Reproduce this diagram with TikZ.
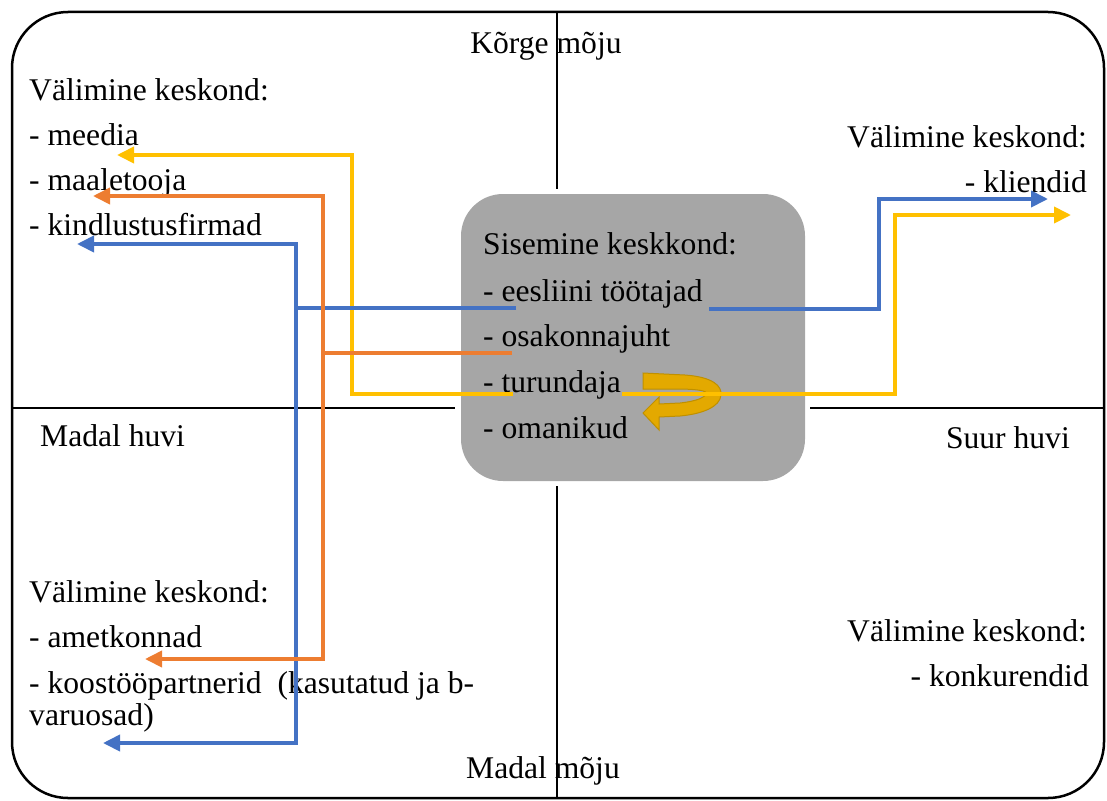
\documentclass[tikz,border=0pt]{standalone}
\usepackage{fontspec}
\setmainfont{Liberation Serif}
\usetikzlibrary{arrows.meta}
\definecolor{cblue}{HTML}{4472C4}
\definecolor{corange}{HTML}{ED7D31}
\definecolor{cyellow}{HTML}{FFC000}
\definecolor{boxgray}{HTML}{A6A6A6}
\definecolor{goldfill}{HTML}{E3A900}
\definecolor{goldline}{HTML}{BF9000}
\begin{document}
\begin{tikzpicture}[x=1pt,y=-1pt,
  txt/.style={inner sep=0pt, font=\fontsize{31.6}{36}\selectfont},
  lft/.style={txt, anchor=base west},
  rgt/.style={txt, anchor=base east},
  ctr/.style={txt, anchor=base},
  axis/.style={line width=2pt, black},
  flow/.style={line width=3.8pt, -{Triangle[length=17pt,width=16pt]}}]
\useasboundingbox (0,0) rectangle (1107,800);
% outer frame
\draw[line width=2.5pt, rounded corners=56pt] (12,12) rectangle (1104,798);
% axes
\draw[axis] (557,12) -- (557,189);
\draw[axis] (557,486) -- (557,798);
\draw[axis] (12,408) -- (455,408);
\draw[axis] (810,408) -- (1104,408);
% inner box
\node[fill=boxgray, rounded corners=42pt, minimum width=344pt, minimum height=287pt, inner sep=0pt] (inner) at (633,337.5) {};
% texts
\node[ctr] (korge) at (546,54) {Kõrge mõju};
\node[ctr] (madalmoju) at (543,778) {Madal mõju};
\node[lft] (madalhuvi) at (40,446) {Madal huvi};
\node[rgt] (suurhuvi) at (1070,448) {Suur huvi};

\node[lft] (tlh) at (29,100) {Välimine keskond:};
\node[lft] (tl1) at (29,145) {- meedia};
\node[lft] (tl2) at (29,190) {- maaletooja};
\node[lft] (tl3) at (29,235) {- kindlustusfirmad};

\node[rgt] (trh) at (1087,147) {Välimine keskond:};
\node[rgt] (tr1) at (1087,192) {- kliendid};

\node[lft] (blh) at (29,602) {Välimine keskond:};
\node[lft] (bl1) at (29,647) {- ametkonnad};
\node[lft] (bl2) at (29,693) {- koostööpartnerid\ \ (kasutatud ja b-};
\node[lft] (bl3) at (29,725) {varuosad)};

\node[rgt] (brh) at (1087,641) {Välimine keskond:};
\node[rgt] (br1) at (1089,686) {- konkurendid};

\node[lft] (ch) at (483,254) {Sisemine keskkond:};
\node[lft] (c1) at (483,301) {- eesliini töötajad};
\node[lft] (c2) at (483,346) {- osakonnajuht};
\node[lft] (c3) at (483,392) {- turundaja};
\node[lft] (c4) at (483,438) {- omanikud};

% coordinates for connectors
\coordinate (yS) at (513,394);
\coordinate (yT) at (117,155);
\coordinate (yR) at (622,394);
\coordinate (yRT) at (1071,215);
\coordinate (oS) at (512,353);
\coordinate (oT1) at (93,196);
\coordinate (oT2) at (145,659);
\coordinate (bS) at (516,308);
\coordinate (bT1) at (77,244);
\coordinate (bT2) at (103,743);
\coordinate (bR) at (709,309);
\coordinate (bRT) at (1048,199);

% curved loop arrow
\filldraw[fill=goldfill, draw=goldline, line width=1pt]
  (643,373) -- (685,375) .. controls (713,377) and (722,386) .. (721,395)
  .. controls (720,407) and (702,414) .. (680,416) -- (659,417) -- (659,430)
  -- (643,413) -- (659,397) -- (659,404) -- (680,403)
  .. controls (698,401) and (706,397) .. (706,393)
  .. controls (706,390) and (692,389) .. (675,389) -- (643,389) -- cycle;

% connectors
\draw[flow, cyellow] (yS) -- (352,394) -- (352,155) -- (yT);
\draw[flow, cyellow] (yR) -- (895,394) -- (895,215) -- (yRT);
\draw[flow, cblue] (bS) -- (296,308) -- (296,244) -- (bT1);
\draw[flow, cblue] (296,308) -- (296,743) -- (bT2);
\draw[flow, cblue] (bR) -- (879,309) -- (879,199) -- (bRT);
\draw[flow, corange] (oS) -- (323,353) -- (323,196) -- (oT1);
\draw[flow, corange] (323,353) -- (323,659) -- (oT2);
\end{tikzpicture}
\end{document}
